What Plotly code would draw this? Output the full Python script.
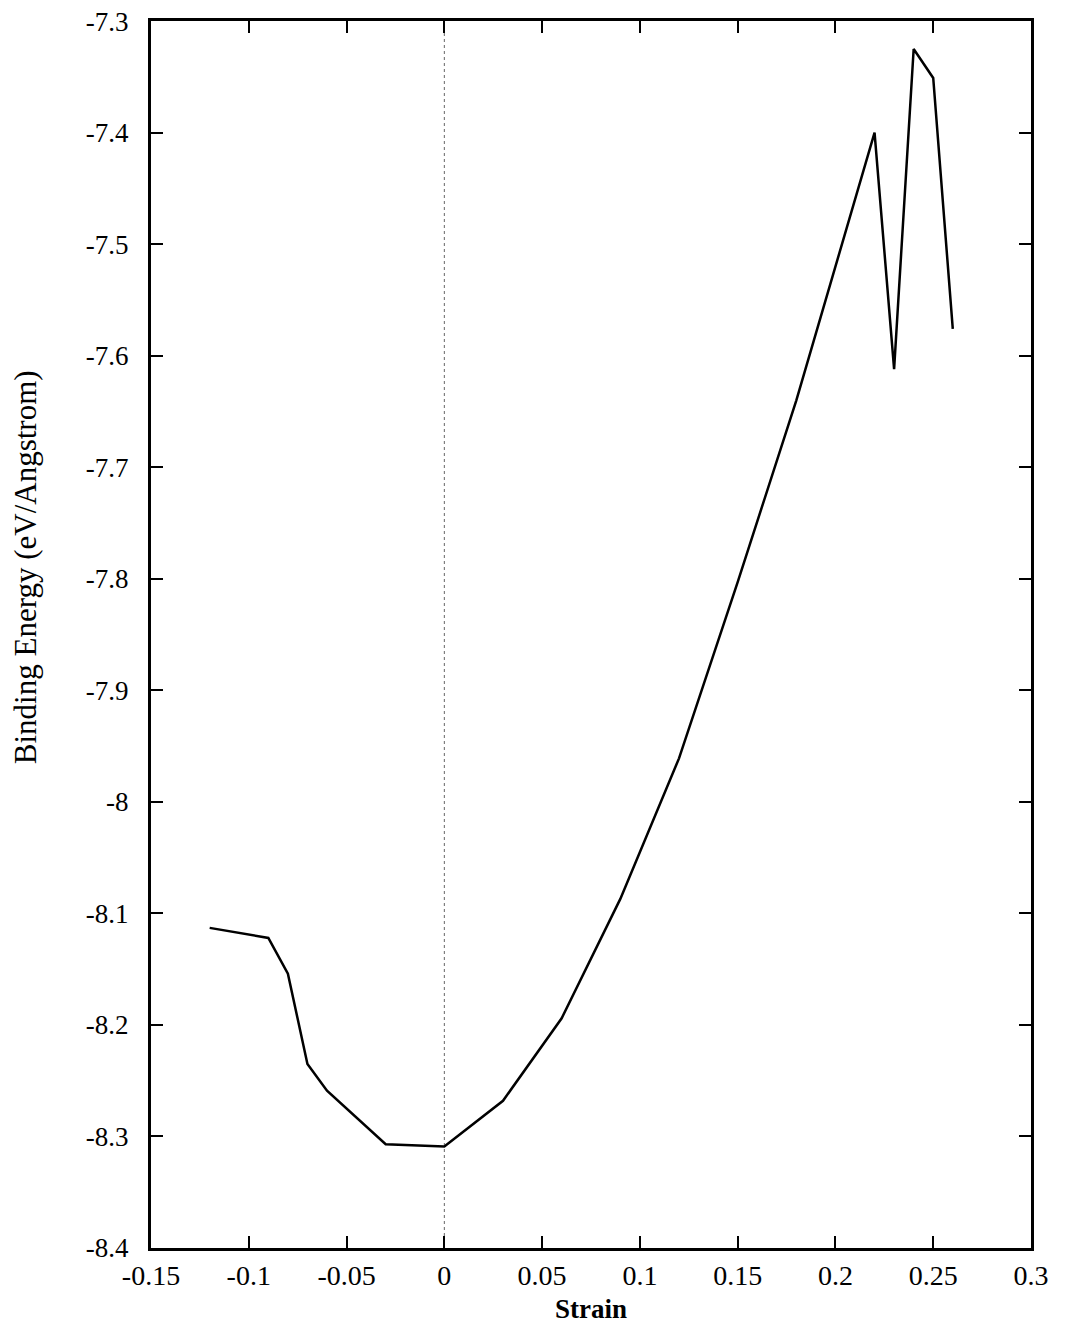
import plotly.graph_objects as go

strain = [-0.12, -0.09, -0.08, -0.07, -0.06, -0.03, 0.0, 0.03, 0.06, 0.09, 0.12,
          0.15, 0.18, 0.20, 0.22, 0.23, 0.24, 0.25, 0.26]
energy = [-8.113, -8.122, -8.154, -8.235, -8.259, -8.307, -8.309, -8.268, -8.194, -8.087, -7.961,
          -7.803, -7.640, -7.520, -7.400, -7.612, -7.325, -7.351, -7.576]

x_ticks = [-0.15, -0.1, -0.05, 0, 0.05, 0.1, 0.15, 0.2, 0.25, 0.3]
x_ticktext = ["-0.15", "-0.1", "-0.05", "0", "0.05", "0.1", "0.15", "0.2", "0.25", "0.3"]
y_ticks = [-7.3, -7.4, -7.5, -7.6, -7.7, -7.8, -7.9, -8.0, -8.1, -8.2, -8.3, -8.4]
y_ticktext = ["-7.3", "-7.4", "-7.5", "-7.6", "-7.7", "-7.8", "-7.9", "-8", "-8.1", "-8.2", "-8.3", "-8.4"]

font_family = "Liberation Serif"

fig = go.Figure()
fig.add_trace(go.Scatter(
    x=strain, y=energy, mode="lines",
    line=dict(color="black", width=2.5),
    showlegend=False, hoverinfo="skip",
))

# dotted zero line
fig.add_shape(type="line", xref="x", yref="paper", x0=0, x1=0, y0=0, y1=1,
              line=dict(color="#666", width=1, dash="dot"), layer="below")

# y-axis title as annotation (positioned like the original)
fig.add_annotation(text="Binding Energy (eV/Angstrom)", textangle=-90,
                   xref="paper", yref="paper", x=-0.143, y=0.555,
                   xanchor="center", yanchor="middle", showarrow=False,
                   font=dict(size=31, family=font_family, color="black"))

fig.update_layout(
    width=1069, height=1333,
    margin=dict(l=143, r=46, t=13, b=93),
    paper_bgcolor="white", plot_bgcolor="white",
    font=dict(family=font_family, color="black", size=26),
    xaxis=dict(
        range=[-0.15, 0.3], tickvals=x_ticks, ticktext=x_ticktext,
        ticks="inside", ticklen=12, tickwidth=2, tickcolor="black",
        showline=True, linecolor="black", linewidth=3, mirror="ticks",
        showgrid=False, zeroline=False, automargin=False,
        tickfont=dict(size=28, family=font_family),
        ticklabeloverflow="allow",
        title=dict(text="<b>Strain</b>", font=dict(size=27, family=font_family), standoff=10),
    ),
    yaxis=dict(
        range=[-8.4, -7.2999], tickvals=y_ticks, ticktext=y_ticktext,
        ticks="inside", ticklen=12, tickwidth=2, tickcolor="black",
        showline=True, linecolor="black", linewidth=3, mirror="ticks",
        showgrid=False, zeroline=False, automargin=False,
        tickfont=dict(size=27, family=font_family),
        ticklabeloverflow="allow",
        ticklabelstandoff=14,
    ),
)

fig.write_html("out.html")
